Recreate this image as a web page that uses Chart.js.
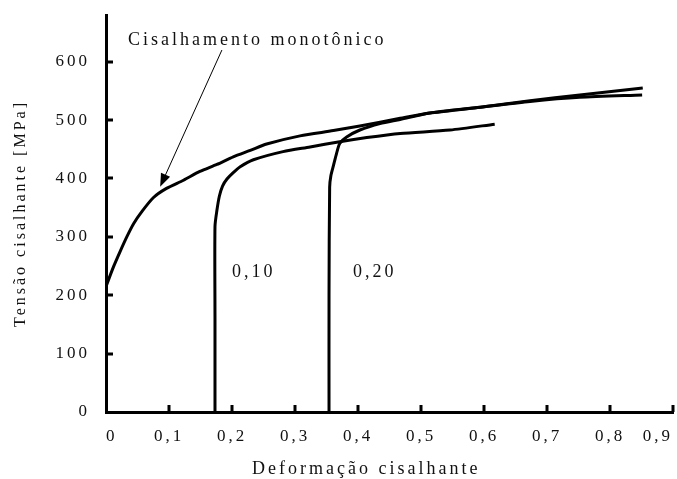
<!DOCTYPE html>
<html>
<head>
<meta charset="utf-8">
<script src="https://cdn.jsdelivr.net/npm/chart.js@4.4.1/dist/chart.umd.min.js"></script>
<style>
  html, body { margin: 0; padding: 0; background: #fff; }
  canvas { display: block; }
</style>
</head>
<body>
<canvas id="myChart" width="677" height="479"></canvas>
<script>
// curves (x = deformação, y = tensão em MPa)
const monoX = [0, 0.012, 0.022, 0.033, 0.044, 0.056, 0.075, 0.096, 0.123, 0.149, 0.176, 0.202, 0.229, 0.255, 0.308, 0.361, 0.403, 0.467, 0.514, 0.594, 0.673, 0.752, 0.852];
const monoY = [215, 249, 274, 300, 323, 342, 367, 383, 397, 412, 424, 437, 448, 459, 473, 482, 490, 503, 512, 522, 533, 543, 555];

const pre10X = [0.173, 0.173, 0.173, 0.176, 0.180, 0.185, 0.192, 0.202, 0.213, 0.234, 0.281, 0.324, 0.371, 0.414, 0.467, 0.546, 0.617];
const pre10Y = [0, 160, 318, 345, 370, 387, 399, 410, 420, 432, 446, 454, 463, 470, 477, 483, 493];

const pre20X = [0.354, 0.354, 0.355, 0.357, 0.361, 0.366, 0.371, 0.382, 0.403, 0.435, 0.467, 0.514, 0.594, 0.673, 0.752, 0.851];
const pre20Y = [0, 200, 385, 405, 422, 443, 460, 471, 483, 494, 501, 512, 522, 532, 539, 543];

const xTicks = [0.1, 0.2, 0.3, 0.4, 0.5, 0.6, 0.7, 0.8, 0.9];
const yTicks = [100, 200, 300, 400, 500, 600];

const monoLabel = 'Cisalhamento monotônico';
const curveLabels = ['0,10', '0,20'];
const xTitle = 'Deformação cisalhante';
const yTitle = 'Tensão cisalhante [MPa]';

const zip = (xs, ys) => xs.map((x, i) => ({x: x, y: ys[i]}));
const serif = 'Liberation Serif, Times New Roman, serif';

const extras = {
  id: 'extras',
  beforeDraw(chart) {
    chart.ctx.letterSpacing = '3px';
  },
  afterDraw(chart) {
    const ctx = chart.ctx;
    const x = chart.scales.x, y = chart.scales.y;
    ctx.save();
    ctx.fillStyle = '#000';
    ctx.strokeStyle = '#000';

    // tick marks point inwards
    yTicks.forEach(v => {
      const py = Math.round(y.getPixelForValue(v));
      ctx.fillRect(x.left, py - 1.5, 7, 3);
    });
    xTicks.forEach(v => {
      const px = Math.round(x.getPixelForValue(v));
      ctx.fillRect(px - 1.5, y.bottom - 7, 3, 7);
    });

    ctx.font = '18px ' + serif;
    ctx.fillStyle = '#111';
    ctx.textBaseline = 'middle';
    ctx.textAlign = 'left';
    ctx.fillText(monoLabel, x.getPixelForValue(0.035), y.getPixelForValue(636));
    ctx.fillText(curveLabels[0], x.getPixelForValue(0.200), y.getPixelForValue(240));
    ctx.fillText(curveLabels[1], x.getPixelForValue(0.392), y.getPixelForValue(240));

    // arrow to the monotonic curve
    const ax0 = x.getPixelForValue(0.184), ay0 = y.getPixelForValue(620);
    const ax1 = x.getPixelForValue(0.086), ay1 = y.getPixelForValue(386);
    const ang = Math.atan2(ay1 - ay0, ax1 - ax0);
    const c = Math.cos(ang), s = Math.sin(ang);
    ctx.lineWidth = 1;
    ctx.beginPath();
    ctx.moveTo(ax0, ay0);
    ctx.lineTo(ax1 - 10 * c, ay1 - 10 * s);
    ctx.stroke();
    ctx.beginPath();
    ctx.moveTo(ax1, ay1);
    ctx.lineTo(ax1 - 13 * c + 5 * s, ay1 - 13 * s - 5 * c);
    ctx.lineTo(ax1 - 13 * c - 5 * s, ay1 - 13 * s + 5 * c);
    ctx.closePath();
    ctx.fillStyle = '#000';
    ctx.fill();

    // x title sits left of centre in the original
    ctx.fillStyle = '#111';
    ctx.textAlign = 'center';
    ctx.font = '18px ' + serif;
    ctx.fillText(xTitle, x.getPixelForValue(0.413), chart.height - 10);
    ctx.restore();
  }
};

const config = {
  type: 'scatter',
  data: {
    datasets: [
      { label: 'monotônico', data: zip(monoX, monoY) },
      { label: '0,10', data: zip(pre10X, pre10Y) },
      { label: '0,20', data: zip(pre20X, pre20Y) }
    ]
  },
  options: {
    responsive: false,
    animation: false,
    showLine: true,
    layout: { padding: { top: 15, right: 4, left: 0, bottom: 0 } },
    elements: {
      point: { radius: 0 },
      line: { borderWidth: 3, borderColor: '#000', tension: 0.25, fill: false }
    },
    plugins: {
      legend: { display: false },
      tooltip: { enabled: false }
    },
    scales: {
      x: {
        type: 'linear',
        min: 0,
        max: 0.9,
        grid: { display: false, drawTicks: false },
        border: { color: '#000', width: 3 },
        ticks: {
          stepSize: 0.1,
          includeBounds: false,
          align: 'inner',
          padding: 14,
          color: '#111',
          font: { family: serif, size: 17 },
          callback: v => v === 0 ? '0' : v.toFixed(1).replace('.', ',')
        },
        afterFit: s => { s.height = 67; s.paddingLeft = 0; s.paddingRight = 0; }
      },
      y: {
        min: 0,
        max: 680,
        grid: { display: false, drawTicks: false },
        border: { color: '#000', width: 3 },
        ticks: {
          stepSize: 100,
          includeBounds: false,
          padding: 16,
          color: '#111',
          font: { family: serif, size: 17 }
        },
        title: {
          display: true,
          text: yTitle,
          color: '#111',
          font: { family: serif, size: 16 },
          padding: { top: 11, bottom: 0 }
        },
        afterFit: s => { s.width = 106; s.paddingTop = 0; s.paddingBottom = 0; }
      }
    }
  },
  plugins: [extras]
};

new Chart(document.getElementById('myChart'), config);
</script>
</body>
</html>
